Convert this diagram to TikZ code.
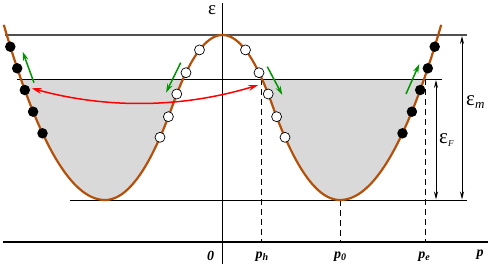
\documentclass[tikz,border=0pt]{standalone}
\usepackage{fontspec}
\setmainfont{Liberation Serif}
\usetikzlibrary{arrows.meta}
\definecolor{band}{RGB}{180,80,10}
\definecolor{fillgray}{RGB}{217,217,217}
\definecolor{grn}{RGB}{0,150,0}
\definecolor{darkline}{RGB}{80,80,80}
\newcommand\bandcurve{plot[domain=3.8:105, samples=40] (\x,{200-0.0171*(\x-105)^2})
 -- plot[domain=105:172.8, samples=30] (\x,{200-0.0207*(\x-105)^2})
 -- plot[domain=172.8:272.2, samples=50] (\x,{35+0.02824*(\x-222.5)^2})
 -- plot[domain=272.2:340, samples=30] (\x,{200-0.0207*(\x-340)^2})
 -- plot[domain=340:441.2, samples=40] (\x,{200-0.0171*(\x-340)^2})}
\begin{document}
\begin{tikzpicture}[x=1pt,y=-1pt,
 bandline/.style={band, line width=2.2pt},
 filled/.style={circle, fill=black, inner sep=0pt, minimum size=10.5pt},
 hollow/.style={circle, draw=black, fill=white, line width=0.7pt, inner sep=0pt, minimum size=10pt},
 level/.style={black, line width=1pt},
 toplevel/.style={darkline, line width=1.6pt},
 axisline/.style={black, line width=1.8pt},
 guide/.style={dash pattern=on 6pt off 4pt, line width=1pt},
 move/.style={grn, line width=1.5pt, -{Stealth[length=9pt,width=5.5pt]}},
 jump/.style={red, line width=1.5pt, {Stealth[length=10pt,width=6pt]}-{Stealth[length=10pt,width=6pt]}},
 span/.style={line width=1pt, {Stealth[length=8pt,width=4pt]}-{Stealth[length=8pt,width=4pt]}},
 lab/.style={font=\bfseries\itshape\fontsize{14}{14}\selectfont, inner sep=0pt},
 elab/.style={font=\fontsize{21}{21}\selectfont, inner sep=0pt}
]
\useasboundingbox (0,0) rectangle (491,266);
% filled states
\begin{scope}
\clip \bandcurve -- (441.2,0) -- (3.8,0) -- cycle;
\fill[fillgray] (0,79) rectangle (491,210);
\end{scope}
% coordinates
\coordinate (mL) at (5,35); \coordinate (mR) at (467,35);
\coordinate (fL) at (17,79); \coordinate (fR) at (442,79);
\coordinate (bL) at (70,200); \coordinate (bR) at (467,200);
\coordinate (vT) at (222.5,3); \coordinate (vB) at (222.5,264);
\coordinate (hL) at (3,242); \coordinate (hR) at (488,242);
\coordinate (phT) at (261,79); \coordinate (phB) at (261,242);
\coordinate (p0T) at (340,200); \coordinate (p0B) at (340,242);
\coordinate (peT) at (425,79); \coordinate (peB) at (425,242);
% guides
\draw[guide] (phT) -- (phB);
\draw[guide] (p0T) -- (p0B);
\draw[guide] (peT) -- (peB);
% levels
\draw[toplevel] (mL) -- (mR);
\draw[level] (fL) -- (fR);
\draw[level] (bL) -- (bR);
% axes
\draw[axisline] (vT) -- (vB);
\draw[axisline] (hL) -- (hR);
% band
\draw[bandline] \bandcurve;
% energy spans
\coordinate (eFT) at (436,80); \coordinate (eFB) at (436,199.5);
\coordinate (emT) at (462,36); \coordinate (emB) at (462,199.5);
\draw[span] (eFT) -- (eFB);
\draw[span] (emT) -- (emB);
% green arrows
\coordinate (g1a) at (34,82.7); \coordinate (g1b) at (22.7,51.7);
\coordinate (g2a) at (180.7,62.7); \coordinate (g2b) at (166,92.7);
\coordinate (g3a) at (267.3,66.7); \coordinate (g3b) at (282.3,95);
\coordinate (g4a) at (406,94); \coordinate (g4b) at (419.3,64);
\draw[move] (g1a) -- (g1b);
\draw[move] (g2a) -- (g2b);
\draw[move] (g3a) -- (g3b);
\draw[move] (g4a) -- (g4b);
% red jump
\coordinate (rL) at (31.7,88.3); \coordinate (rR) at (258.3,85);
\draw[jump] (rL) .. controls (107,109) and (183,108) .. (rR);
% electrons
\node[filled] (e1) at (10.3,46.7) {};
\node[filled] (e2) at (17.2,68.3) {};
\node[filled] (e3) at (24.8,90) {};
\node[filled] (e4) at (33.1,111.7) {};
\node[filled] (e5) at (42.5,133.3) {};
\node[filled] (e6) at (434.7,46.7) {};
\node[filled] (e7) at (427.8,68.3) {};
\node[filled] (e8) at (420.2,90) {};
\node[filled] (e9) at (411.9,111.7) {};
\node[filled] (e10) at (402.5,133.3) {};
% holes
\node[hollow] (h1) at (199.5,49.9) {};
\node[hollow] (h2) at (186,72.7) {};
\node[hollow] (h3) at (176.8,94) {};
\node[hollow] (h4) at (168.4,116.7) {};
\node[hollow] (h5) at (160,137.3) {};
\node[hollow] (h6) at (245.5,49.9) {};
\node[hollow] (h7) at (259,72.7) {};
\node[hollow] (h8) at (268.2,94) {};
\node[hollow] (h9) at (276.6,116.7) {};
\node[hollow] (h10) at (285,137.3) {};
% labels
\node[elab, font=\fontsize{19}{19}\selectfont] (eps) at (212,10.5) {ε};
\node[elab, anchor=west] (epsm) at (466,102) {ε\raisebox{-0.3ex}{\fontsize{13}{13}\selectfont\itshape m}};
\node[elab, anchor=west] (epsF) at (439,140) {ε\raisebox{-0.4ex}{\fontsize{9}{9}\selectfont\itshape F}};
\node[lab] (l0) at (210.5,256) {0};
\node[lab] (lph) at (262,256.5) {p\raisebox{-0.4ex}{\fontsize{10}{10}\selectfont h}};
\node[lab] (lp0) at (340,256.5) {p\raisebox{-0.4ex}{\fontsize{10}{10}\selectfont 0}};
\node[lab] (lpe) at (424,256.5) {p\raisebox{-0.4ex}{\fontsize{10}{10}\selectfont e}};
\node[lab] (lp) at (480,255) {p};
\end{tikzpicture}
\end{document}
